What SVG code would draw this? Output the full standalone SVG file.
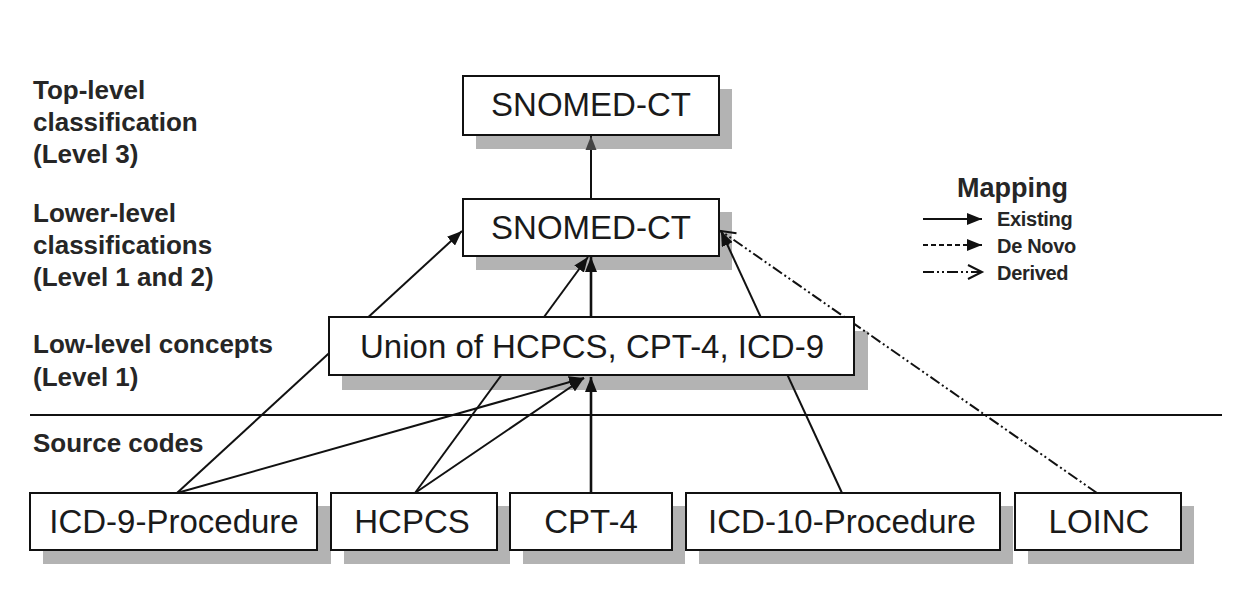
<svg xmlns="http://www.w3.org/2000/svg" width="1247" height="610" viewBox="0 0 1247 610">
<style>
.box{fill:#fff;stroke:#111;stroke-width:2}
.sh{fill:#b3b3b3}
.nt{font-family:"Liberation Sans",Arial,sans-serif;font-size:33px;fill:#1a1a1a;text-anchor:middle}
.lb{font-family:"Liberation Sans",Arial,sans-serif;font-size:26px;font-weight:bold;fill:#262626}
.lg{font-family:"Liberation Sans",Arial,sans-serif;font-size:20px;font-weight:bold;fill:#262626;letter-spacing:-0.3px}
.c{fill:none;stroke:#111;stroke-width:2}
.thick{stroke-width:2.6}
</style>
<defs>
<marker id="ah" markerUnits="userSpaceOnUse" markerWidth="16" markerHeight="12" refX="15" refY="6" orient="auto">
<path d="M0,0 L15,6 L0,12 z" fill="#111"/>
</marker>
<marker id="ahg" markerUnits="userSpaceOnUse" markerWidth="16" markerHeight="12" refX="14" refY="6" orient="auto">
<path d="M0,0.5 L14,6 L0,11.5 z" fill="#444"/>
</marker>
<marker id="ao" markerUnits="userSpaceOnUse" markerWidth="18" markerHeight="16" refX="15" refY="8" orient="auto">
<path d="M1,1 L15,8 L1,15" fill="none" stroke="#111" stroke-width="2"/>
</marker>
</defs>
<rect width="1247" height="610" fill="#fff"/>

<g id="shadows">
<rect class="sh" x="476" y="89" width="256" height="60"/>
<rect class="sh" x="476" y="212" width="256" height="58"/>
<rect class="sh" x="342" y="331" width="526" height="59"/>
<rect class="sh" x="43" y="506" width="288" height="58"/>
<rect class="sh" x="344" y="506" width="166" height="58"/>
<rect class="sh" x="523" y="506" width="162" height="58"/>
<rect class="sh" x="699" y="506" width="314" height="58"/>
<rect class="sh" x="1028" y="506" width="166" height="58"/>
</g>

<g id="separator">
<line x1="30" y1="415" x2="1222" y2="415" stroke="#111" stroke-width="2"/>
</g>

<g id="connectors">
<path class="c" d="M591,199 L591,136" stroke="#333" marker-end="url(#ahg)"/>
<path class="c" d="M177,493 L462,231" marker-end="url(#ah)"/>
<path class="c" d="M177,493 L584,378" marker-end="url(#ah)"/>
<path class="c" d="M415,493 L584,378" marker-end="url(#ah)"/>
<path class="c" d="M415,493 L588,257" marker-end="url(#ah)"/>
<path class="c thick" d="M591,493 L591,377" marker-end="url(#ah)"/>
<path class="c thick" d="M591,317 L591,257" marker-end="url(#ah)"/>
<path class="c" d="M842,493 L721,231" marker-end="url(#ah)"/>
<path class="c" d="M1097,493 L721,231" stroke-dasharray="11 3 2 3 2 3" marker-end="url(#ao)"/>
</g>

<g id="snomed-top">
<rect class="box" x="463" y="76" width="256" height="59"/>
<text class="nt" x="591" y="116">SNOMED-CT</text>
</g>
<g id="snomed-lower">
<rect class="box" x="463" y="199" width="256" height="57"/>
<text class="nt" x="591" y="239">SNOMED-CT</text>
</g>
<g id="union">
<rect class="box" x="329" y="317" width="525" height="58"/>
<text class="nt" x="592" y="358">Union of HCPCS, CPT-4, ICD-9</text>
</g>
<g id="icd9">
<rect class="box" x="30" y="493" width="287" height="57"/>
<text class="nt" x="174" y="533">ICD-9-Procedure</text>
</g>
<g id="hcpcs">
<rect class="box" x="331" y="493" width="166" height="57"/>
<text class="nt" x="412" y="533">HCPCS</text>
</g>
<g id="cpt4">
<rect class="box" x="510" y="493" width="162" height="57"/>
<text class="nt" x="591" y="533">CPT-4</text>
</g>
<g id="icd10">
<rect class="box" x="686" y="493" width="314" height="57"/>
<text class="nt" x="842" y="533">ICD-10-Procedure</text>
</g>
<g id="loinc">
<rect class="box" x="1015" y="493" width="166" height="57"/>
<text class="nt" x="1099" y="533">LOINC</text>
</g>

<g id="level-labels">
<text class="lb" x="33" y="99">Top-level</text>
<text class="lb" x="33" y="131">classification</text>
<text class="lb" x="33" y="163">(Level 3)</text>
<text class="lb" x="33" y="222">Lower-level</text>
<text class="lb" x="33" y="254">classifications</text>
<text class="lb" x="33" y="286">(Level 1 and 2)</text>
<text class="lb" x="33" y="353">Low-level concepts</text>
<text class="lb" x="33" y="386">(Level 1)</text>
<text class="lb" x="33" y="452">Source codes</text>
</g>

<g id="legend">
<text class="lb" x="957" y="197" style="font-size:27px">Mapping</text>
<line x1="923" y1="219" x2="982" y2="219" class="c" marker-end="url(#ah)"/>
<line x1="923" y1="245" x2="982" y2="245" class="c" stroke-dasharray="5 3" marker-end="url(#ah)"/>
<line x1="923" y1="272" x2="982" y2="272" class="c" stroke-dasharray="11 3 2 3 2 3" marker-end="url(#ao)"/>
<text class="lg" x="997" y="226">Existing</text>
<text class="lg" x="997" y="253">De Novo</text>
<text class="lg" x="997" y="280">Derived</text>
</g>
</svg>
